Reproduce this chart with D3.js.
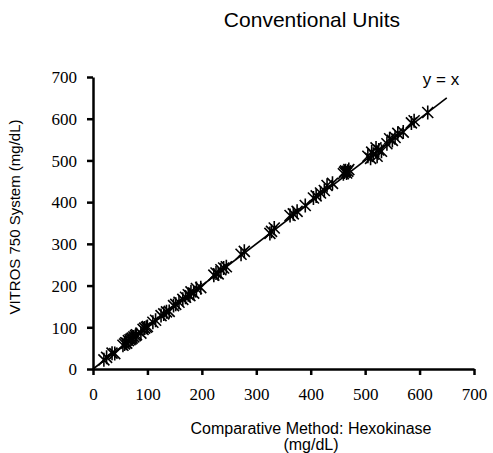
<!DOCTYPE html>
<html>
<head>
<meta charset="utf-8">
<script src="https://cdn.jsdelivr.net/npm/d3@7"></script>
<style>
  body { margin: 0; background: #fff; }
  .lbl { font-family: "Liberation Sans", Arial, sans-serif; fill: #000; }
</style>
</head>
<body>
<div id="chart"></div>
<script>
// comparative method (x) vs VITROS 750 (y), mg/dL
var xVals = [20, 25, 35, 40, 55, 58, 60, 62, 65, 68, 70, 72, 75, 78, 80, 88, 92, 95, 98, 100,
    110, 115, 125, 130, 135, 140, 148, 152, 158, 165, 170, 175, 178, 180, 185, 190, 198,
    222, 226, 230, 235, 240, 245, 272, 278, 325, 328, 333, 362, 368, 375, 390, 405, 410,
    418, 425, 430, 440, 460, 462, 464, 466, 468, 470, 505, 510, 512, 515, 520, 522, 525,
    530, 540, 545, 550, 555, 560, 570, 585, 590, 615];
var yVals = [22, 28, 38, 37, 57, 60, 63, 62, 68, 70, 72, 74, 77, 80, 82, 86, 95, 98, 100, 102,
    112, 117, 128, 132, 137, 138, 152, 155, 160, 167, 172, 178, 176, 185, 182, 193, 195,
    225, 230, 228, 238, 242, 245, 275, 282, 325, 330, 338, 368, 372, 378, 392, 410, 415,
    422, 428, 440, 445, 468, 472, 475, 470, 474, 478, 510, 505, 520, 515, 530, 510, 525,
    522, 540, 552, 548, 555, 565, 568, 590, 595, 615];
var xTicks = [0, 100, 200, 300, 400, 500, 600, 700];
var yTicks = [0, 100, 200, 300, 400, 500, 600, 700];
var lineEnd = 650;

var width = 493, height = 453;

var svg = d3.select("#chart").append("svg")
    .attr("width", width)
    .attr("height", height);

var x = d3.scaleLinear().domain([0, 700]).range([93, 474]);
var y = d3.scaleLinear().domain([0, 700]).range([369, 77]);

// axes
var xAxis = svg.append("g")
    .attr("transform", "translate(0," + y(0) + ")")
    .call(d3.axisBottom(x).tickValues(xTicks).tickSize(6).tickPadding(20).tickSizeOuter(0));
var yAxis = svg.append("g")
    .attr("transform", "translate(" + x(0) + ",0)")
    .call(d3.axisLeft(y).tickValues(yTicks).tickSize(6).tickPadding(10).tickSizeOuter(0));

[xAxis, yAxis].forEach(function(ax) {
    ax.attr("font-family", "'Liberation Serif', 'Times New Roman', serif").attr("font-size", 17);
    ax.select(".domain").attr("stroke", "#000").attr("stroke-width", 2.5);
    ax.selectAll(".tick line").attr("stroke", "#000").attr("stroke-width", 2.5);
    ax.selectAll(".tick text").attr("fill", "#000");
});
xAxis.selectAll(".tick text").attr("dy", "0.3em");
yAxis.selectAll(".tick text").attr("dy", "0.34em");

// y = x line
svg.append("line")
    .attr("x1", x(0)).attr("y1", y(0))
    .attr("x2", x(lineEnd)).attr("y2", y(lineEnd))
    .attr("stroke", "#000")
    .attr("stroke-width", 1.6);

// star markers
var pts = xVals.map(function(d, i) { return {x: d, y: yVals[i]}; });
var r = 5.5;
svg.append("g").selectAll("path.pt")
    .data(pts)
    .enter().append("path")
    .attr("class", "pt")
    .attr("transform", function(d) { return "translate(" + x(d.x) + "," + y(d.y) + ")"; })
    .attr("d", "M0," + (-r - 1.5) + "V" + (r + 1.5) +
        "M" + (-r) + "," + (-r) + "L" + r + "," + r +
        "M" + (-r) + "," + r + "L" + r + "," + (-r))
    .attr("fill", "none")
    .attr("stroke", "#000")
    .attr("stroke-width", 1.6);

// labels
svg.append("text").attr("class", "lbl")
    .attr("x", 312).attr("y", 27)
    .attr("text-anchor", "middle")
    .attr("font-size", 21)
    .text("Conventional Units");

svg.append("text").attr("class", "lbl")
    .attr("x", 441).attr("y", 85)
    .attr("text-anchor", "middle")
    .attr("font-size", 17)
    .text("y = x");

svg.append("text").attr("class", "lbl")
    .attr("transform", "translate(20,217) rotate(-90)")
    .attr("text-anchor", "middle")
    .attr("font-size", 15)
    .text("VITROS 750 System (mg/dL)");

svg.append("text").attr("class", "lbl")
    .attr("x", 311).attr("y", 434)
    .attr("text-anchor", "middle")
    .attr("font-size", 16)
    .text("Comparative Method: Hexokinase");
svg.append("text").attr("class", "lbl")
    .attr("x", 311).attr("y", 450)
    .attr("text-anchor", "middle")
    .attr("font-size", 16)
    .text("(mg/dL)");
</script>
</body>
</html>
